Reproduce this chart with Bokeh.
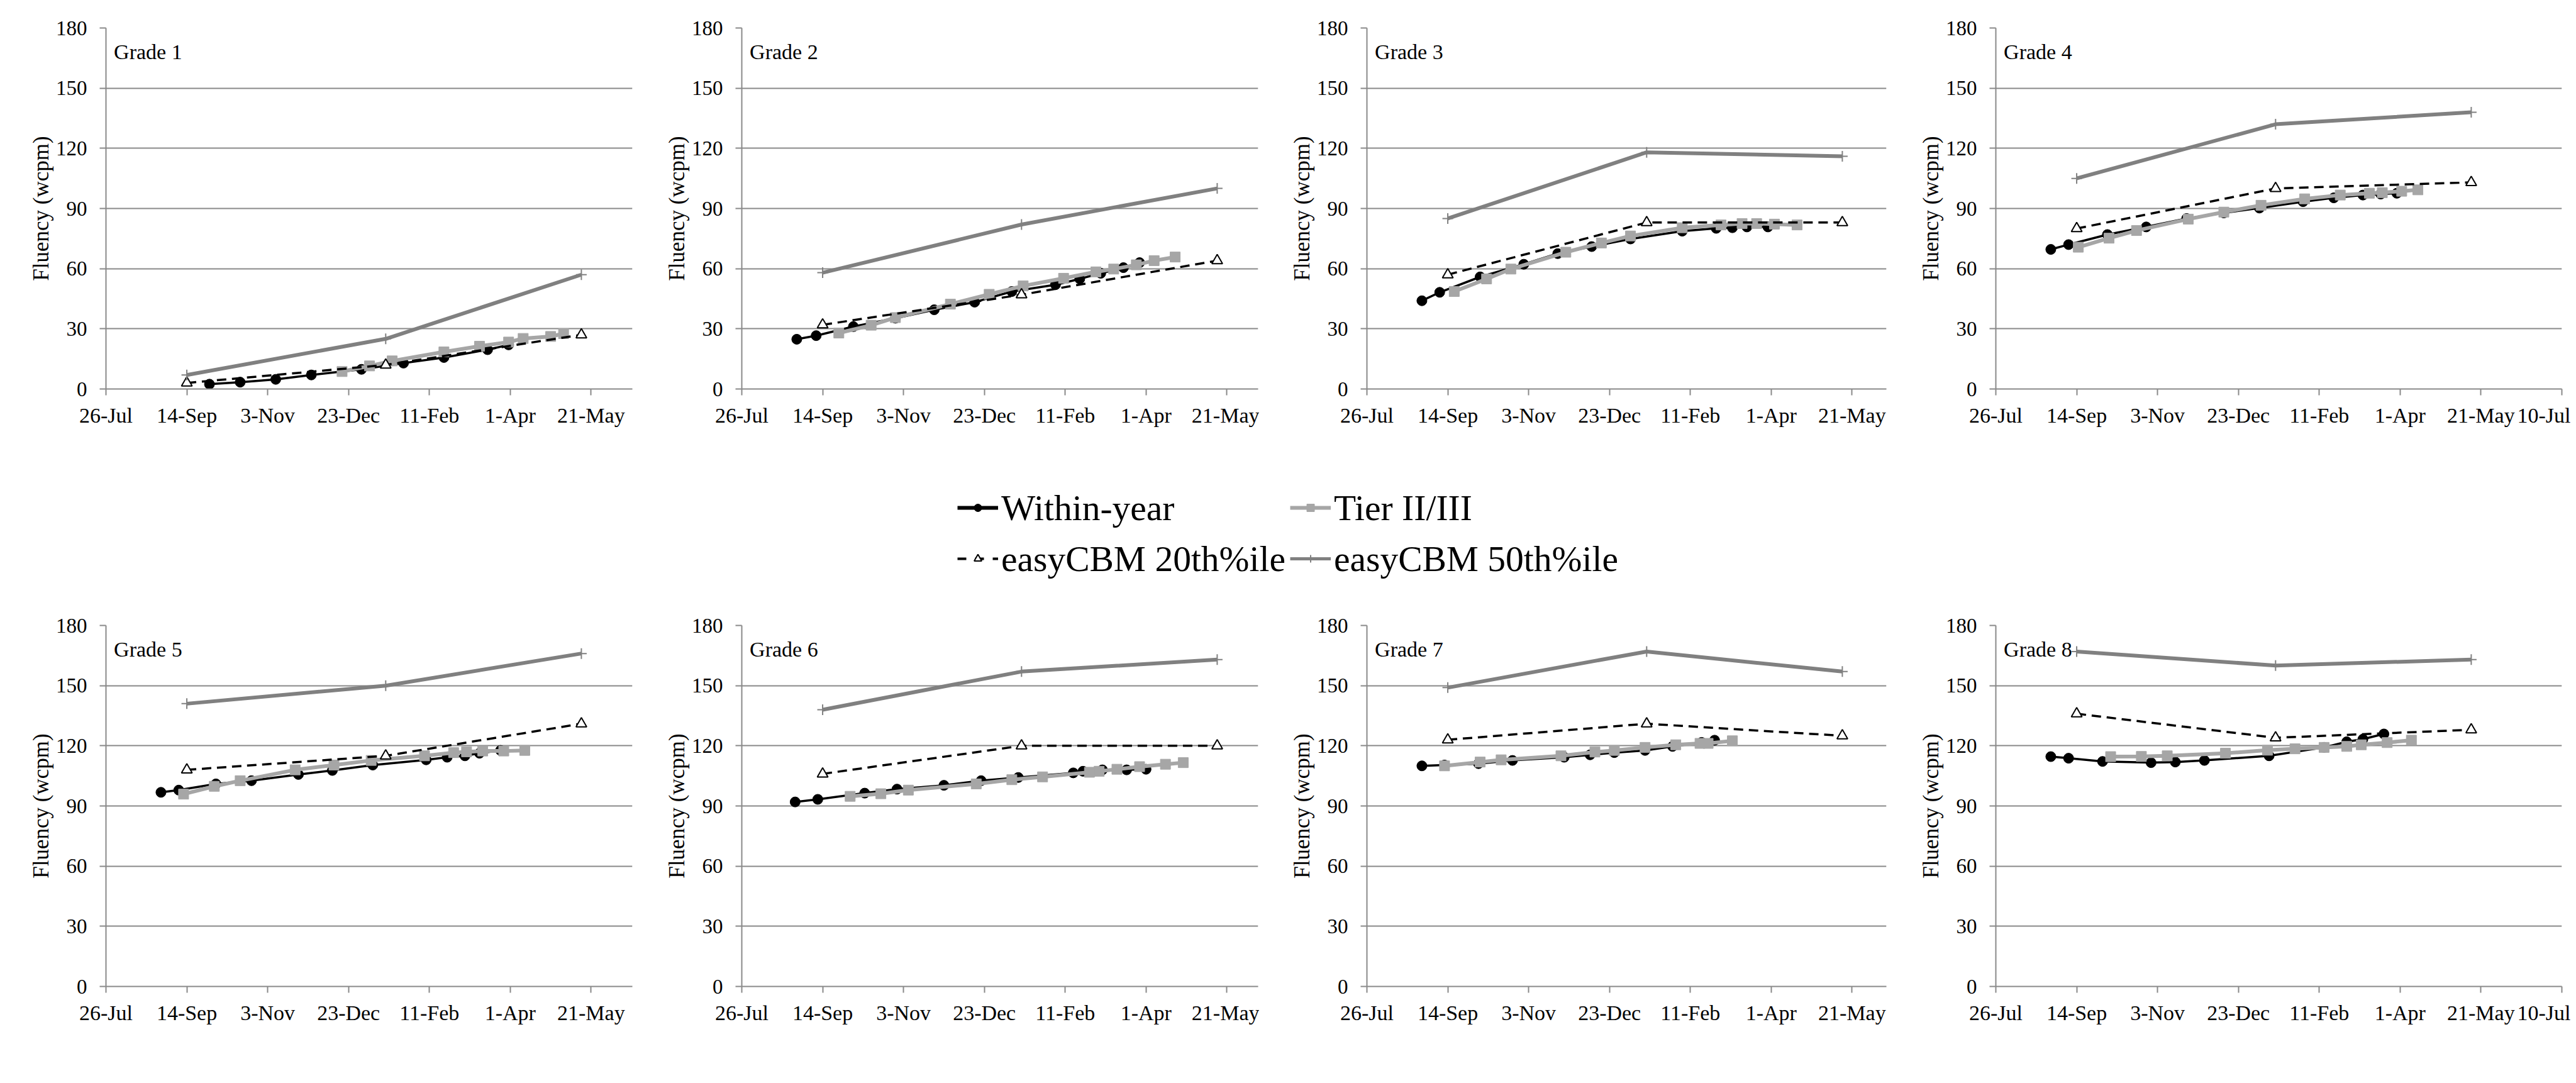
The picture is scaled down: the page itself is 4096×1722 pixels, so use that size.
from bokeh.plotting import figure
from bokeh.models import Range1d, FixedTicker, Label, Legend, LegendItem
from bokeh.layouts import column, row
from bokeh.embed import file_html
from bokeh.resources import INLINE

# ---------------- data ----------------
grades = ["Grade 1", "Grade 2", "Grade 3", "Grade 4",
          "Grade 5", "Grade 6", "Grade 7", "Grade 8"]

# x axis: days after 26-Jul
tick_days = [0, 50, 100, 150, 200, 250, 300, 350]
tick_labels = ["26-Jul", "14-Sep", "3-Nov", "23-Dec", "11-Feb", "1-Apr", "21-May", "10-Jul"]
y_ticks = [0, 30, 60, 90, 120, 150, 180]

# easyCBM benchmark dates (fall, winter, spring)
bench_days = [50, 173, 294]
p20_wcpm = [
    [3, 12, 27], [32, 47, 64], [57, 83, 83], [80, 100, 103],
    [108, 115, 131], [106, 120, 120], [123, 131, 125], [136, 124, 128],
]
p50_wcpm = [
    [7, 25, 57], [58, 82, 100], [85, 118, 116], [105, 132, 138],
    [141, 150, 166], [138, 157, 163], [149, 167, 157], [167, 160, 163],
]

within_days = [
    [64, 83, 105, 127, 158, 184, 209, 236, 249],
    [34, 46, 69, 95, 119, 144, 167, 194, 209, 222, 236, 246],
    [34, 45, 70, 97, 118, 139, 163, 195, 216, 226, 235, 248],
    [34, 45, 69, 93, 118, 141, 163, 190, 209, 227, 238, 248],
    [34, 45, 68, 90, 119, 140, 165, 198, 211, 222, 231, 244],
    [33, 47, 76, 96, 125, 148, 171, 205, 211, 223, 238, 250],
    [34, 48, 69, 90, 122, 138, 153, 172, 189, 207, 215],
    [34, 45, 66, 96, 111, 129, 169, 203, 217, 227, 240],
]
within_wcpm = [
    [2.4, 3.4, 4.8, 7.0, 9.8, 12.9, 15.7, 19.6, 22.0],
    [24.8, 26.6, 31.1, 35.3, 39.5, 43.3, 48.6, 52.0, 54.9, 57.7, 60.5, 63.0],
    [44.0, 48.2, 55.9, 62.2, 67.5, 71.0, 74.8, 78.7, 80.1, 80.4, 80.8, 80.8],
    [69.6, 72.0, 77.0, 80.8, 85.0, 87.8, 90.2, 93.4, 95.3, 96.7, 97.2, 97.6],
    [96.8, 97.9, 101.0, 102.6, 105.7, 107.7, 110.4, 113.0, 114.3, 115.0, 116.3, 117.7],
    [92.0, 93.3, 96.4, 98.4, 100.3, 102.6, 104.2, 106.5, 107.3, 108.0, 108.0, 108.3],
    [110.0, 110.4, 111.1, 112.7, 114.3, 115.5, 116.6, 117.7, 119.7, 121.7, 122.8],
    [114.6, 113.8, 112.2, 111.6, 111.9, 112.7, 115.0, 119.2, 122.0, 123.3, 125.9],
]

tier_days = [
    [146, 163, 177, 209, 231, 249, 258, 275, 283],
    [60, 80, 95, 129, 153, 174, 199, 219, 230, 244, 255, 268],
    [54, 74, 89, 123, 145, 163, 195, 219, 232, 241, 252, 266],
    [51, 70, 87, 119, 141, 164, 191, 213, 231, 239, 251, 261],
    [48, 67, 83, 117, 141, 164, 197, 215, 223, 233, 246, 259],
    [67, 86, 103, 145, 167, 186, 215, 221, 232, 246, 262, 273],
    [48, 70, 83, 120, 141, 153, 172, 191, 206, 211, 226],
    [71, 90, 106, 142, 168, 185, 203, 217, 226, 242, 257],
]
tier_wcpm = [
    [8.7, 11.5, 14.0, 18.5, 21.3, 23.4, 25.2, 26.2, 27.6],
    [27.9, 31.8, 35.6, 42.3, 47.2, 51.4, 55.2, 58.4, 59.8, 61.9, 64.0, 65.8],
    [48.6, 54.9, 59.8, 68.2, 72.8, 76.3, 80.4, 81.8, 82.5, 82.5, 82.2, 81.8],
    [70.7, 75.2, 79.0, 84.7, 88.2, 91.6, 94.8, 96.7, 97.6, 97.9, 98.6, 99.3],
    [95.9, 99.8, 102.6, 108.0, 110.4, 112.7, 115.0, 116.6, 117.0, 117.4, 117.4, 117.7],
    [94.8, 96.1, 97.9, 101.0, 103.1, 104.5, 106.8, 107.3, 108.3, 109.6, 110.8, 111.6],
    [110.0, 111.9, 113.0, 115.0, 116.9, 117.7, 119.2, 120.5, 121.2, 121.2, 122.5],
    [114.6, 114.7, 115.0, 116.3, 117.8, 118.5, 119.2, 119.7, 120.5, 121.6, 122.8],
]

series_names = ["Within-year", "Tier II/III", "easyCBM 20th%ile", "easyCBM 50th%ile"]
y_title = "Fluency (wcpm)"

# ---------------- layout / style ----------------
S = 0.899
PX_PER_DAY = 143 * S / 50
GRID = "#898989"
FONT = "Liberation Serif"
BLACK = "#000000"
TIER = "#A6A6A6"
P50 = "#808080"

fig_widths = [1026, 976, 1024, 1061]
border_left = [168, 153, 171, 147]
border_right = [21, 2, 27, 14]
FRAME_H = 574
TOP_H, TOP_BT = 693, 44
BOT_H, BOT_BT = 767, 49
LEG_H = 252


def make_panel(idx, height, border_top):
    col = idx % 4
    fw = fig_widths[col] - border_left[col] - border_right[col]
    x_end = fw / PX_PER_DAY
    p = figure(width=fig_widths[col], height=height,
               x_range=Range1d(0, x_end), y_range=Range1d(0, 180),
               toolbar_location=None, output_backend="svg",
               min_border_left=border_left[col], min_border_right=border_right[col],
               min_border_top=border_top,
               min_border_bottom=height - border_top - FRAME_H)
    p.outline_line_color = None
    p.background_fill_color = "white"
    p.border_fill_color = "white"

    # axes
    p.xaxis.ticker = FixedTicker(ticks=tick_days)
    p.xaxis.major_label_overrides = {d: lab for d, lab in zip(tick_days, tick_labels)}
    p.yaxis.ticker = FixedTicker(ticks=y_ticks)
    for ax in (p.xaxis, p.yaxis):
        ax.axis_line_color = GRID
        ax.axis_line_width = 2
        ax.major_tick_line_color = GRID
        ax.major_tick_line_width = 2
        ax.major_tick_out = 10
        ax.major_tick_in = 0
        ax.minor_tick_out = 0
        ax.minor_tick_in = 0
        ax.major_label_text_font = FONT
        ax.major_label_text_color = BLACK
    p.xaxis.major_label_text_font_size = "34px"
    p.yaxis.major_label_text_font_size = "33px"
    p.xaxis.major_label_standoff = 13
    p.yaxis.major_label_standoff = 20
    p.yaxis.axis_label = y_title
    p.yaxis.axis_label_text_font = FONT
    p.yaxis.axis_label_text_font_size = "35px"
    p.yaxis.axis_label_text_font_style = "normal"
    p.yaxis.axis_label_text_color = BLACK
    p.yaxis.axis_label_standoff = 1

    p.xgrid.visible = False
    p.ygrid.grid_line_color = GRID
    p.ygrid.grid_line_width = 2

    # series (Excel order)
    p.line(within_days[idx], within_wcpm[idx], line_color=BLACK, line_width=3.5)
    p.scatter(within_days[idx], within_wcpm[idx], marker="circle", size=16,
              fill_color=BLACK, line_color=BLACK)
    p.line(tier_days[idx], tier_wcpm[idx], line_color=TIER, line_width=6)
    p.scatter(tier_days[idx], tier_wcpm[idx], marker="square", size=16,
              fill_color=TIER, line_color=TIER)
    p.line(bench_days, p20_wcpm[idx], line_color=BLACK, line_width=3.5, line_dash="15 9")
    p.scatter(bench_days, p20_wcpm[idx], marker="triangle", size=17,
              fill_color="white", line_color=BLACK, line_width=2)
    p.line(bench_days, p50_wcpm[idx], line_color=P50, line_width=6)
    p.scatter(bench_days, p50_wcpm[idx], marker="cross", size=17,
              line_color=P50, line_width=2)

    lab = Label(x=12.6 / PX_PER_DAY, y=180 - 37.8 * 180 / FRAME_H,
                text=grades[idx], text_font=FONT, text_font_size="34px",
                text_color=BLACK, text_baseline="alphabetic", text_align="left")
    p.add_layout(lab)
    return p


top = [make_panel(i, TOP_H, TOP_BT) for i in range(4)]
bottom = [make_panel(i, BOT_H, BOT_BT) for i in range(4, 8)]

# ---------------- legend strip ----------------
# The strip's range excludes the data, so only the legend entries are visible.
lf = figure(width=sum(fig_widths), height=LEG_H, x_range=Range1d(-2, -1), y_range=Range1d(-2, -1),
            toolbar_location=None, output_backend="svg", min_border=0,
            x_axis_type=None, y_axis_type=None)
lf.outline_line_color = None
lf.xgrid.visible = False
lf.ygrid.visible = False

r1 = lf.line(within_days[0], within_wcpm[0], line_color=BLACK, line_width=6)
r1m = lf.scatter(within_days[0], within_wcpm[0], marker="circle", size=14,
                 fill_color=BLACK, line_color=BLACK)
r2 = lf.line(tier_days[0], tier_wcpm[0], line_color=TIER, line_width=6)
r2m = lf.scatter(tier_days[0], tier_wcpm[0], marker="square", size=14,
                 fill_color=TIER, line_color=TIER)
r3 = lf.line(bench_days, p20_wcpm[0], line_color=BLACK, line_width=4, line_dash="14 14")
r3m = lf.scatter(bench_days, p20_wcpm[0], marker="triangle", size=14, fill_color="white",
                 line_color=BLACK, line_width=2)
r4 = lf.line(bench_days, p50_wcpm[0], line_color=P50, line_width=5)
r4m = lf.scatter(bench_days, p50_wcpm[0], marker="cross", size=14, line_color=P50, line_width=2)

legend = Legend(items=[
    LegendItem(label=series_names[0], renderers=[r1, r1m]),
    LegendItem(label=series_names[1], renderers=[r2, r2m]),
    LegendItem(label=series_names[2], renderers=[r3, r3m]),
    LegendItem(label=series_names[3], renderers=[r4, r4m]),
], orientation="horizontal", ncols=2, location=(1522, 20),
    padding=0, margin=0, spacing=7, glyph_width=65, glyph_height=30,
    label_standoff=5, label_height=74,
    label_text_font=FONT, label_text_font_size="57.5px", label_text_color=BLACK,
    border_line_color=None, background_fill_alpha=0)
lf.add_layout(legend)

layout = column(row(*top), lf, row(*bottom))
open("out.html", "w").write(file_html(layout, INLINE))
